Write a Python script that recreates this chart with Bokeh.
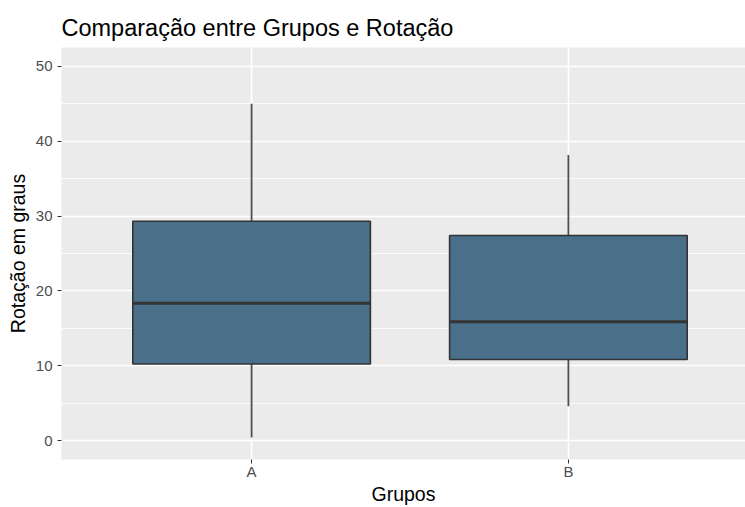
from bokeh.plotting import figure
from bokeh.models import FixedTicker, Range1d
from bokeh.embed import file_html
from bokeh.resources import INLINE

# ---- data ----
grupos = ["A", "B"]
minimo = [0.45, 4.6]
q1 = [10.25, 10.85]
mediana = [18.35, 15.9]
q3 = [29.3, 27.4]
maximo = [45.0, 38.15]

y_ticks = [0, 10, 20, 30, 40, 50]
y_minor = [5, 15, 25, 35, 45]

titulo = "Comparação entre Grupos e Rotação"
rotulo_x = "Grupos"
rotulo_y = "Rotação em graus"

# ---- layout ----
FONT = "Liberation Sans"
BOX_W = 0.75
pos = [i + 1 for i in range(len(grupos))]

p = figure(width=745, height=507, output_backend="svg", toolbar_location=None,
           x_range=Range1d(0.4, 2.559), y_range=Range1d(-2.5, 52.5),
           min_border_left=61, min_border_right=0, min_border_top=47,
           min_border_bottom=46)

p.background_fill_color = "#EBEBEB"
p.border_fill_color = "white"
p.outline_line_color = None

p.title.text = titulo
p.title.text_font = FONT
p.title.text_font_size = "23.5px"
p.title.text_font_style = "normal"
p.title.text_color = "black"
p.title.align = "left"
p.title.standoff = 13

# axes
p.xaxis.ticker = FixedTicker(ticks=pos)
p.xaxis.major_label_overrides = {x: g for x, g in zip(pos, grupos)}
p.yaxis.ticker = FixedTicker(ticks=y_ticks, minor_ticks=y_minor)

for ax in (p.xaxis[0], p.yaxis[0]):
    ax.axis_line_color = None
    ax.major_tick_line_color = "#333333"
    ax.major_tick_out = 4
    ax.major_tick_in = 0
    ax.minor_tick_line_color = None
    ax.major_label_text_font = FONT
    ax.major_label_text_font_size = "15px"
    ax.major_label_text_color = "#4d4d4d"
    ax.axis_label_text_font = FONT
    ax.axis_label_text_font_size = "19.5px"
    ax.axis_label_text_font_style = "normal"
    ax.axis_label_text_color = "black"

p.xaxis.axis_label = rotulo_x
p.yaxis.axis_label = rotulo_y
p.xaxis.major_label_standoff = -1
p.yaxis.major_label_standoff = 5
p.xaxis.axis_label_standoff = 0
p.yaxis.axis_label_standoff = 4

# grids
p.xgrid.grid_line_color = "white"
p.xgrid.grid_line_width = 1.6
p.ygrid.grid_line_color = "white"
p.ygrid.grid_line_width = 1.6
p.ygrid.minor_grid_line_color = "white"
p.ygrid.minor_grid_line_width = 0.8

# boxplots
left = [x - BOX_W / 2 for x in pos]
right = [x + BOX_W / 2 for x in pos]

p.segment(x0=pos, y0=q3, x1=pos, y1=maximo, line_color="#4f4f4f", line_width=1.8)
p.segment(x0=pos, y0=q1, x1=pos, y1=minimo, line_color="#4f4f4f", line_width=1.8)
p.vbar(x=pos, width=BOX_W, bottom=q1, top=q3, fill_color="#4A6F8A",
       line_color="#333333", line_width=1.6)
p.segment(x0=left, y0=mediana, x1=right, y1=mediana, line_color="#333333",
          line_width=3)

open("out.html", "w").write(file_html(p, INLINE))
